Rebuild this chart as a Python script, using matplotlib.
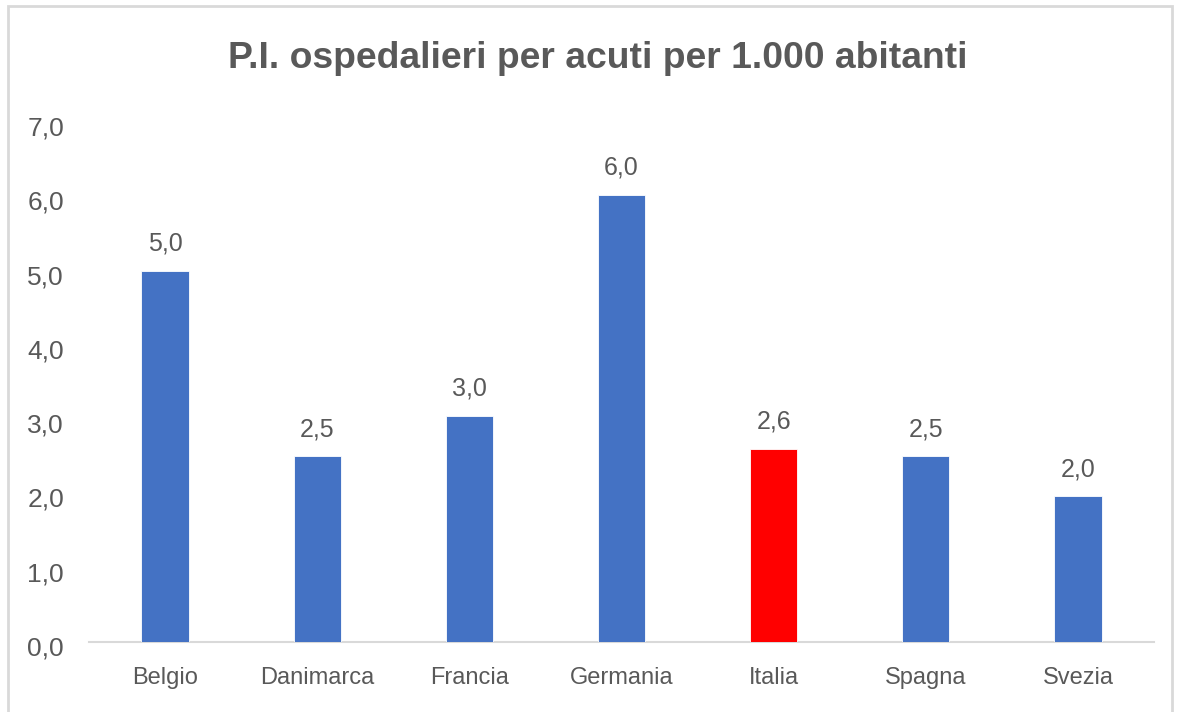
import matplotlib
matplotlib.use("Agg")
import matplotlib.pyplot as plt
from matplotlib.patches import Rectangle
from matplotlib.transforms import ScaledTranslation
from matplotlib import font_manager

categories = ["Belgio", "Danimarca", "Francia", "Germania", "Italia", "Spagna", "Svezia"]
values = [5.0, 2.5, 3.04, 6.02, 2.6, 2.5, 1.96]
highlight = "Italia"
yticks = [0, 1, 2, 3, 4, 5, 6, 7]
title = "P.I. ospedalieri per acuti per 1.000 abitanti"

names = {f.name for f in font_manager.fontManager.ttflist}
fam = "Liberation Sans Narrow" if "Liberation Sans Narrow" in names else "Liberation Sans"
plt.rcParams["font.family"] = [fam, "DejaVu Sans"]

W, H = 1178, 712
fig = plt.figure(figsize=(W / 100, H / 100), dpi=100)
ax = fig.add_axes([89 / W, 70 / H, (1154 - 89) / W, 520 / H])

blue = "#4472C4"
red = "#FF0000"
txt = "#595959"
colors = [red if c == highlight else blue for c in categories]
x = list(range(len(categories)))
ax.bar(x, values, width=0.31, color=colors, edgecolor="white", linewidth=0.6, zorder=3)
for xi, v in zip(x, values):
    ax.annotate(f"{v:.1f}".replace(".", ","), (xi, v), xytext=(0, 11), textcoords="offset points",
                ha="center", va="bottom", fontsize=18, color=txt)

ax.set_xlim(-0.5, len(categories) - 0.5)
ax.set_ylim(0, 7)
ax.set_yticks(yticks)
ax.set_yticklabels([f"{t:.1f}".replace(".", ",") for t in yticks], fontsize=19, color=txt)
ax.set_xticks(x)
ax.set_xticklabels(categories, fontsize=17, color=txt)
ax.tick_params(axis="y", length=0, pad=18)
ax.tick_params(axis="x", length=0, pad=18)
shift = ScaledTranslation(0, -4 / 100, fig.dpi_scale_trans)
for lab in ax.get_yticklabels():
    lab.set_transform(lab.get_transform() + shift)
for s in ["top", "right", "left"]:
    ax.spines[s].set_visible(False)
ax.spines["bottom"].set_color("#D9D9D9")
ax.spines["bottom"].set_linewidth(1.5)

fig.text(598 / W, 1 - 58 / H, title, ha="center", va="center", fontsize=26.8, fontweight="bold", color=txt)

fig.patches.append(Rectangle((8 / W, -0.05), (1172 - 8) / W, 1.05 - 6 / H, transform=fig.transFigure,
                             fill=False, edgecolor="#D9D9D9", linewidth=2))

fig.savefig("out.png", dpi=100)
